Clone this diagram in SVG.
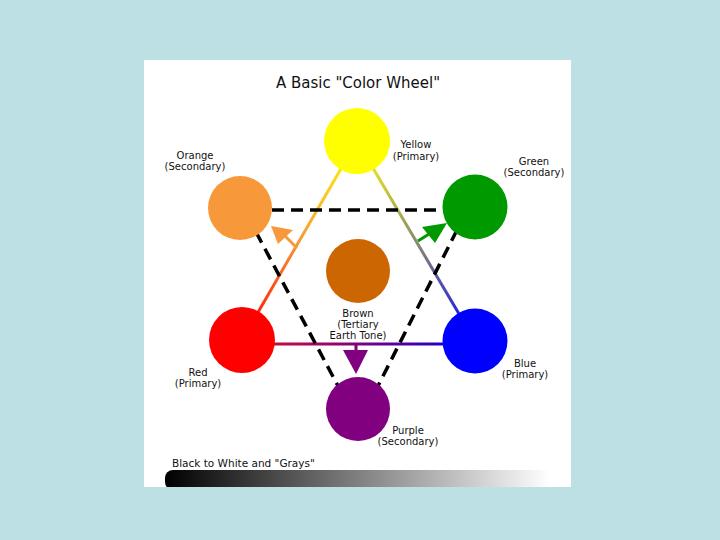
<svg xmlns="http://www.w3.org/2000/svg" width="720" height="540" viewBox="0 0 720 540">
<style>
.lbl{font-family:"DejaVu Sans","Liberation Sans",sans-serif;font-size:10px;fill:#111;text-anchor:middle}
.dash{stroke:#000;stroke-width:3.5;stroke-dasharray:12 7;fill:none}
.solid{stroke-width:3;fill:none}
</style>
<defs>
<linearGradient id="gYR" gradientUnits="userSpaceOnUse" x1="357" y1="141" x2="242" y2="340">
<stop offset="0" stop-color="#ffff00"/><stop offset="0.5" stop-color="#f7993b"/><stop offset="1" stop-color="#ff0000"/>
</linearGradient>
<linearGradient id="gYB" gradientUnits="userSpaceOnUse" x1="357" y1="141" x2="475" y2="341">
<stop offset="0" stop-color="#ffff00"/><stop offset="0.5" stop-color="#8c8c70"/><stop offset="1" stop-color="#0000ff"/>
</linearGradient>
<linearGradient id="gRB" gradientUnits="userSpaceOnUse" x1="242" y1="343" x2="475" y2="343">
<stop offset="0" stop-color="#e0102a"/><stop offset="0.5" stop-color="#800080"/><stop offset="1" stop-color="#0000e0"/>
</linearGradient>
<linearGradient id="gGray" gradientUnits="userSpaceOnUse" x1="165" y1="0" x2="550" y2="0">
<stop offset="0" stop-color="#000"/><stop offset="1" stop-color="#fff"/>
</linearGradient>
<clipPath id="panelClip"><rect x="144" y="60" width="427" height="427"/></clipPath>
</defs>
<rect x="0" y="0" width="720" height="540" fill="#bce0e4"/>
<rect x="144" y="60" width="427" height="427" fill="#ffffff"/>
<text x="358" y="88" font-family="DejaVu Sans, Liberation Sans, sans-serif" font-size="15" fill="#111" text-anchor="middle">A Basic "Color Wheel"</text>
<g id="connectors">
<line class="solid" x1="357" y1="141" x2="242" y2="340" stroke="url(#gYR)"/>
<line class="solid" x1="357" y1="141" x2="475" y2="341" stroke="url(#gYB)"/>
<line class="solid" x1="242" y1="344" x2="475" y2="344" stroke="url(#gRB)"/>
<line class="dash" x1="272" y1="210" x2="443" y2="210"/>
<line class="dash" x1="256" y1="232" x2="338" y2="386"/>
<line class="dash" x1="457" y1="230" x2="378" y2="386"/>
<line x1="297" y1="248" x2="285" y2="236" stroke="#f7993b" stroke-width="3"/>
<polygon points="271,226 293,230 278,244" fill="#f7993b"/>
<line x1="418" y1="241" x2="429" y2="234" stroke="#009900" stroke-width="3"/>
<polygon points="447,223 422,227 435,243" fill="#009900"/>
<line x1="356" y1="344" x2="356" y2="352" stroke="#800080" stroke-width="3"/>
<polygon points="343,350 368,350 356,374" fill="#800080"/>
</g>
<g id="yellow"><circle cx="357" cy="141" r="33" fill="#ffff00"/><text class="lbl" x="416" y="148">Yellow</text><text class="lbl" x="416" y="160">(Primary)</text></g>
<g id="orange"><circle cx="240" cy="208" r="32" fill="#f7993b"/><text class="lbl" x="195" y="159">Orange</text><text class="lbl" x="195" y="170">(Secondary)</text></g>
<g id="green"><circle cx="475" cy="207" r="32.5" fill="#009900"/><text class="lbl" x="534" y="165">Green</text><text class="lbl" x="534" y="176">(Secondary)</text></g>
<g id="brown"><circle cx="358" cy="271" r="32" fill="#cc6600"/><text class="lbl" x="358" y="317">Brown</text><text class="lbl" x="358" y="328">(Tertiary</text><text class="lbl" x="358" y="339">Earth Tone)</text></g>
<g id="red"><circle cx="242" cy="340" r="33" fill="#ff0000"/><text class="lbl" x="198" y="376">Red</text><text class="lbl" x="198" y="387">(Primary)</text></g>
<g id="blue"><circle cx="475" cy="341" r="32.5" fill="#0000ff"/><text class="lbl" x="525" y="367">Blue</text><text class="lbl" x="525" y="378">(Primary)</text></g>
<g id="purple"><circle cx="358" cy="409" r="32" fill="#800080"/><text class="lbl" x="408" y="434">Purple</text><text class="lbl" x="408" y="445">(Secondary)</text></g>
<g id="grays">
<text x="172" y="467" font-family="DejaVu Sans, Liberation Sans, sans-serif" font-size="10.5" fill="#111">Black to White and "Grays"</text>
<rect x="165" y="470" width="390" height="20" rx="8" fill="url(#gGray)" clip-path="url(#panelClip)"/>
</g>
</svg>
